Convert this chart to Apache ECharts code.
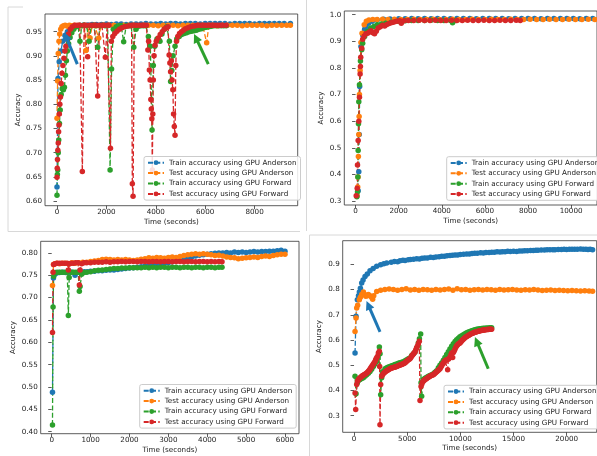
<!DOCTYPE html>
<html>
<head>
<meta charset="utf-8">
<script src="https://cdn.jsdelivr.net/npm/echarts@6/dist/echarts.min.js"></script>
<style>
  html, body { margin: 0; padding: 0; background: #fff; }
  #main { width: 597px; height: 456px; }
</style>
</head>
<body>
<div id="main"></div>
<script>
// series names and colours (matplotlib tab10)
const names = [
  "Train accuracy using GPU Anderson",
  "Test accuracy using GPU Anderson",
  "Train accuracy using GPU Forward",
  "Test accuracy using GPU Forward"
];
const colors = ["#1f77b4", "#ff7f0e", "#2ca02c", "#d62728"];

// ---- top left panel: [time, accuracy]
const tlTrainAnd = [[0,0.629],[40,0.853],[90,0.888],[160,0.91],[230,0.93],[320,0.942],[420,0.95],[520,0.956],[640,0.96],[780,0.962],[920,0.963],[1080,0.964],[1250,0.964],[1420,0.965],[1600,0.965],[1800,0.965],[2000,0.966],[2200,0.965],[2400,0.966],[2600,0.966],[2800,0.965],[3000,0.966],[3200,0.966],[3400,0.966],[3600,0.967],[3800,0.966],[4000,0.966],[4200,0.967],[4400,0.966],[4600,0.967],[4800,0.967],[5000,0.966],[5200,0.967],[5400,0.967],[5600,0.967],[5800,0.966],[6000,0.967],[6200,0.967],[6400,0.967],[6600,0.967],[6800,0.967],[7000,0.966],[7200,0.967],[7400,0.967],[7600,0.967],[7800,0.967],[8000,0.966],[8200,0.967],[8400,0.967],[8600,0.967],[8800,0.967],[9000,0.967],[9200,0.967],[9450,0.967]];
const tlTestAnd = [[0,0.771],[25,0.848],[50,0.905],[80,0.93],[110,0.945],[150,0.955],[200,0.96],[260,0.962],[330,0.963],[420,0.961],[500,0.963],[600,0.962],[700,0.963],[800,0.962],[900,0.963],[1000,0.962],[1100,0.963],[1170,0.911],[1250,0.962],[1340,0.937],[1420,0.962],[1520,0.963],[1600,0.962],[1690,0.937],[1780,0.962],[1900,0.963],[2100,0.963],[2300,0.963],[2500,0.962],[2700,0.963],[2900,0.963],[3100,0.963],[3300,0.962],[3500,0.963],[3700,0.963],[3900,0.963],[4100,0.962],[4300,0.963],[4500,0.963],[4700,0.963],[4900,0.962],[5100,0.963],[5300,0.963],[5500,0.963],[5700,0.963],[5900,0.963],[6060,0.927],[6150,0.963],[6300,0.963],[6500,0.962],[6700,0.963],[6900,0.963],[7100,0.963],[7300,0.963],[7500,0.962],[7700,0.963],[7900,0.963],[8100,0.963],[8300,0.963],[8500,0.962],[8700,0.963],[8900,0.963],[9100,0.963],[9300,0.963],[9450,0.963]];
const tlTrainFwd = [[0,0.612],[15,0.655],[30,0.664],[50,0.7],[70,0.726],[100,0.76],[130,0.788],[170,0.82],[210,0.832],[260,0.83],[300,0.835],[340,0.86],[380,0.89],[420,0.91],[470,0.925],[530,0.938],[600,0.948],[680,0.955],[760,0.96],[850,0.962],[930,0.93],[1000,0.962],[1100,0.963],[1200,0.962],[1300,0.93],[1380,0.962],[1480,0.963],[1560,0.962],[1650,0.918],[1740,0.962],[1850,0.963],[1950,0.962],[2050,0.962],[2150,0.664],[2210,0.873],[2280,0.955],[2400,0.96],[2500,0.962],[2600,0.962],[2700,0.929],[2800,0.962],[2900,0.962],[3000,0.962],[3110,0.918],[3200,0.955],[3300,0.961],[3400,0.962],[3500,0.962],[3600,0.962],[3700,0.94],[3780,0.92],[3850,0.747],[3900,0.88],[3960,0.92],[4050,0.935],[4170,0.93],[4250,0.945],[4350,0.955],[4450,0.96],[4550,0.93],[4600,0.847],[4650,0.87],[4700,0.9],[4780,0.92],[4850,0.935],[4950,0.94],[5050,0.944],[5150,0.946],[5250,0.948],[5350,0.95],[5450,0.951],[5550,0.952],[5650,0.953],[5750,0.955],[5850,0.956],[5950,0.958],[6050,0.959],[6150,0.96],[6250,0.961],[6350,0.962],[6450,0.962],[6550,0.962],[6650,0.962],[6750,0.962],[6850,0.962]];
const tlTestFwd = [[0,0.649],[10,0.668],[20,0.686],[35,0.705],[50,0.72],[65,0.743],[80,0.757],[95,0.78],[115,0.8],[140,0.815],[170,0.843],[200,0.864],[240,0.88],[280,0.895],[320,0.91],[360,0.92],[410,0.935],[470,0.945],[540,0.955],[620,0.96],[720,0.963],[820,0.963],[920,0.963],[1026,0.661],[1100,0.963],[1180,0.963],[1242,0.898],[1320,0.963],[1420,0.963],[1520,0.963],[1600,0.963],[1647,0.817],[1720,0.963],[1820,0.963],[1900,0.963],[1957,0.897],[2030,0.963],[2100,0.963],[2165,0.709],[2200,0.93],[2260,0.94],[2340,0.946],[2430,0.951],[2530,0.955],[2630,0.958],[2730,0.96],[2830,0.961],[2930,0.962],[3020,0.963],[3050,0.636],[3080,0.61],[3130,0.963],[3230,0.963],[3330,0.963],[3430,0.963],[3530,0.963],[3620,0.963],[3680,0.912],[3710,0.93],[3740,0.871],[3770,0.85],[3800,0.81],[3820,0.79],[3840,0.77],[3860,0.664],[3880,0.78],[3900,0.85],[3930,0.9],[3970,0.922],[4020,0.93],[4100,0.937],[4180,0.944],[4260,0.95],[4340,0.955],[4420,0.958],[4500,0.96],[4540,0.902],[4570,0.885],[4600,0.867],[4630,0.89],[4660,0.85],[4690,0.83],[4720,0.78],[4750,0.754],[4780,0.736],[4810,0.88],[4840,0.93],[4890,0.94],[4960,0.946],[5040,0.95],[5120,0.953],[5200,0.956],[5300,0.958],[5400,0.96],[5500,0.961],[5600,0.962],[5700,0.963],[5800,0.963],[5900,0.963],[6000,0.963],[6100,0.963],[6200,0.963],[6300,0.963],[6400,0.963],[6500,0.963],[6600,0.963],[6700,0.963],[6850,0.963]];

// ---- top right panel
const trTrainAnd = [[60,0.32],[120,0.339],[150,0.41],[170,0.55],[190,0.73],[250,0.88],[330,0.924],[420,0.945],[480,0.955],[600,0.968],[775,0.975],[1000,0.98],[1300,0.983],[1600,0.984],[2000,0.985],[2300,0.985],[2600,0.986],[2900,0.985],[3200,0.986],[3500,0.985],[3800,0.986],[4100,0.986],[4400,0.985],[4700,0.986],[5000,0.986],[5300,0.986],[5600,0.985],[5900,0.986],[6200,0.986],[6500,0.986],[6800,0.986],[7100,0.985],[7400,0.986],[7700,0.986],[8000,0.986],[8300,0.986],[8600,0.985],[8900,0.986],[9200,0.986],[9500,0.986],[9800,0.986],[10100,0.986],[10400,0.985],[10700,0.986],[11000,0.986],[11300,0.986]];
const trTestAnd = [[70,0.32],[100,0.353],[115,0.39],[130,0.467],[150,0.55],[165,0.617],[180,0.7],[210,0.79],[250,0.895],[300,0.93],[400,0.962],[500,0.975],[620,0.98],[800,0.982],[1000,0.982],[1250,0.983],[1500,0.982],[1800,0.983],[2100,0.982],[2400,0.982],[2700,0.983],[3000,0.982],[3300,0.982],[3600,0.983],[3900,0.982],[4200,0.982],[4500,0.983],[4800,0.982],[5100,0.982],[5400,0.983],[5700,0.982],[6000,0.982],[6300,0.983],[6600,0.982],[6900,0.982],[7200,0.983],[7500,0.982],[7800,0.982],[8100,0.983],[8400,0.982],[8700,0.982],[9000,0.983],[9300,0.982],[9600,0.982],[9900,0.983],[10200,0.982],[10500,0.982],[10800,0.983],[11100,0.982],[11300,0.982]];
const trTrainFwd = [[60,0.316],[90,0.335],[105,0.39],[120,0.49],[135,0.59],[150,0.673],[180,0.737],[225,0.826],[285,0.868],[330,0.893],[420,0.918],[550,0.937],[700,0.95],[850,0.956],[1000,0.962],[1200,0.965],[1400,0.968],[1650,0.972],[1970,0.975],[2300,0.977],[2600,0.978],[2900,0.978],[3200,0.978],[3500,0.979],[3800,0.978],[4100,0.978],[4400,0.978],[4500,0.97],[4650,0.978]];
const trTestFwd = [[30,0.32],[75,0.348],[90,0.435],[120,0.527],[150,0.6],[180,0.69],[210,0.777],[225,0.805],[240,0.84],[285,0.874],[330,0.908],[400,0.92],[480,0.928],[560,0.93],[640,0.935],[720,0.94],[800,0.932],[880,0.928],[960,0.938],[1050,0.95],[1150,0.955],[1250,0.96],[1350,0.957],[1450,0.963],[1550,0.967],[1650,0.97],[1750,0.972],[1850,0.974],[1950,0.976],[2050,0.977],[2120,0.968],[2250,0.977],[2450,0.978],[2700,0.978],[2950,0.979],[3200,0.978],[3450,0.978],[3700,0.979],[3950,0.978],[4200,0.978],[4450,0.979],[4700,0.978],[4950,0.978],[5200,0.979],[5450,0.978],[5700,0.978],[5950,0.979],[6200,0.978],[6450,0.978],[6700,0.979],[6950,0.978],[7200,0.978],[7450,0.979],[7640,0.978]];

// ---- bottom left panel
const blTrainAnd = [[20,0.488],[45,0.744],[80,0.752],[130,0.755],[200,0.756],[280,0.757],[360,0.756],[440,0.757],[520,0.757],[600,0.75],[680,0.757],[760,0.758],[840,0.758],[920,0.758],[1000,0.759],[1100,0.759],[1200,0.76],[1300,0.76],[1400,0.761],[1500,0.762],[1600,0.762],[1700,0.763],[1800,0.764],[1900,0.765],[2000,0.766],[2100,0.767],[2200,0.768],[2300,0.769],[2400,0.771],[2500,0.772],[2600,0.774],[2700,0.775],[2800,0.776],[2900,0.777],[3000,0.778],[3100,0.78],[3200,0.782],[3300,0.784],[3400,0.786],[3500,0.789],[3600,0.791],[3700,0.793],[3800,0.795],[3900,0.796],[4000,0.797],[4100,0.798],[4200,0.799],[4300,0.8],[4400,0.8],[4500,0.801],[4600,0.8],[4700,0.802],[4800,0.801],[4900,0.802],[5000,0.801],[5100,0.802],[5200,0.803],[5300,0.802],[5400,0.803],[5500,0.803],[5600,0.804],[5700,0.804],[5800,0.805],[5900,0.806],[6000,0.804]];
const blTestAnd = [[20,0.727],[45,0.774],[80,0.776],[130,0.777],[200,0.776],[280,0.777],[360,0.777],[440,0.776],[520,0.778],[600,0.777],[700,0.778],[800,0.779],[900,0.779],[1000,0.781],[1100,0.782],[1200,0.783],[1300,0.785],[1400,0.786],[1500,0.785],[1600,0.784],[1700,0.785],[1800,0.784],[1900,0.785],[2000,0.784],[2100,0.783],[2200,0.784],[2300,0.786],[2400,0.787],[2500,0.789],[2600,0.788],[2700,0.79],[2800,0.789],[2900,0.788],[3000,0.79],[3100,0.791],[3200,0.79],[3300,0.792],[3400,0.794],[3500,0.796],[3600,0.797],[3700,0.798],[3800,0.797],[3900,0.798],[4000,0.797],[4100,0.796],[4200,0.794],[4300,0.795],[4400,0.793],[4500,0.791],[4600,0.79],[4700,0.789],[4800,0.787],[4900,0.788],[5000,0.789],[5100,0.79],[5200,0.791],[5300,0.79],[5400,0.792],[5500,0.793],[5600,0.792],[5700,0.794],[5800,0.796],[5900,0.797],[6000,0.797]];
const blTrainFwd = [[20,0.415],[35,0.679],[50,0.748],[90,0.756],[140,0.757],[200,0.757],[260,0.757],[330,0.757],[400,0.757],[428,0.66],[450,0.745],[500,0.757],[560,0.757],[620,0.757],[680,0.757],[711,0.714],[730,0.725],[770,0.752],[830,0.756],[900,0.757],[1000,0.758],[1100,0.76],[1200,0.761],[1300,0.762],[1400,0.763],[1500,0.764],[1600,0.765],[1700,0.765],[1800,0.766],[1900,0.766],[2000,0.767],[2100,0.767],[2200,0.767],[2300,0.767],[2400,0.768],[2500,0.767],[2600,0.768],[2700,0.767],[2800,0.768],[2900,0.768],[3000,0.767],[3100,0.768],[3200,0.768],[3300,0.767],[3400,0.768],[3500,0.768],[3600,0.767],[3700,0.768],[3800,0.768],[3900,0.767],[4000,0.768],[4100,0.768],[4200,0.767],[4300,0.768],[4380,0.768]];
const blTestFwd = [[20,0.622],[35,0.757],[50,0.774],[90,0.776],[140,0.777],[200,0.777],[260,0.777],[330,0.777],[400,0.777],[428,0.762],[450,0.775],[500,0.777],[560,0.777],[620,0.778],[680,0.778],[711,0.728],[730,0.762],[770,0.776],[830,0.778],[900,0.778],[1000,0.778],[1100,0.779],[1200,0.779],[1300,0.779],[1400,0.78],[1500,0.779],[1600,0.78],[1700,0.78],[1800,0.781],[1900,0.78],[2000,0.781],[2100,0.781],[2200,0.78],[2300,0.781],[2400,0.781],[2500,0.78],[2600,0.781],[2700,0.781],[2800,0.78],[2900,0.781],[3000,0.781],[3100,0.78],[3200,0.781],[3300,0.781],[3400,0.78],[3500,0.781],[3600,0.781],[3700,0.78],[3800,0.781],[3900,0.781],[4000,0.78],[4100,0.781],[4200,0.78],[4300,0.781],[4380,0.78]];

// ---- bottom right panel
const brTrainAnd = [[94,0.548],[188,0.694],[313,0.76],[420,0.775],[501,0.79],[600,0.805],[720,0.826],[850,0.838],[1034,0.852],[1250,0.862],[1504,0.875],[1800,0.884],[2130,0.892],[2500,0.898],[2800,0.902],[3070,0.905],[3500,0.908],[3800,0.911],[4100,0.91],[4324,0.914],[4600,0.916],[4800,0.915],[5100,0.918],[5300,0.919],[5600,0.92],[5890,0.922],[6150,0.921],[6400,0.924],[6650,0.925],[6900,0.925],[7200,0.928],[7457,0.927],[7700,0.929],[8000,0.93],[8250,0.932],[8500,0.932],[8750,0.934],[9023,0.935],[9250,0.936],[9500,0.937],[9750,0.937],[10000,0.939],[10300,0.94],[10590,0.941],[10850,0.941],[11100,0.943],[11350,0.944],[11600,0.944],[11900,0.946],[12156,0.945],[12400,0.947],[12700,0.947],[12950,0.948],[13200,0.948],[13450,0.95],[13723,0.949],[13950,0.95],[14200,0.95],[14450,0.952],[14700,0.951],[15000,0.952],[15290,0.951],[15550,0.953],[15800,0.953],[16050,0.954],[16300,0.954],[16600,0.955],[16856,0.955],[17100,0.956],[17300,0.956],[17600,0.957],[17900,0.957],[18150,0.958],[18422,0.958],[18700,0.958],[18900,0.958],[19200,0.959],[19500,0.959],[19750,0.96],[19989,0.959],[20250,0.96],[20500,0.96],[20750,0.96],[21000,0.96],[21300,0.961],[21555,0.96],[21800,0.96],[22000,0.959],[22200,0.96],[22432,0.958]];
const brTestAnd = [[94,0.634],[188,0.687],[250,0.727],[340,0.738],[500,0.76],[600,0.77],[720,0.78],[880,0.79],[1000,0.78],[1100,0.773],[1250,0.775],[1350,0.78],[1500,0.775],[1650,0.77],[1750,0.762],[1850,0.775],[2130,0.792],[2500,0.797],[2900,0.8],[3300,0.802],[3700,0.8],[4100,0.797],[4500,0.8],[4900,0.803],[5300,0.798],[5700,0.8],[6100,0.797],[6500,0.8],[6900,0.799],[7300,0.797],[7700,0.8],[8100,0.798],[8500,0.8],[8900,0.802],[9300,0.797],[9700,0.803],[10100,0.799],[10500,0.8],[10900,0.797],[11300,0.799],[11700,0.8],[12100,0.798],[12500,0.8],[12900,0.799],[13300,0.797],[13700,0.8],[14100,0.798],[14500,0.799],[14900,0.8],[15300,0.798],[15700,0.797],[16100,0.799],[16500,0.798],[16900,0.8],[17300,0.798],[17700,0.796],[18100,0.797],[18500,0.798],[18900,0.796],[19300,0.797],[19700,0.796],[20100,0.795],[20500,0.796],[20900,0.795],[21300,0.794],[21700,0.795],[22100,0.794],[22432,0.793]];
const brTrainFwd = [[94,0.456],[188,0.387],[313,0.43],[450,0.44],[564,0.443],[720,0.447],[877,0.45],[1030,0.456],[1190,0.462],[1350,0.468],[1504,0.475],[1660,0.484],[1817,0.495],[1970,0.505],[2130,0.515],[2230,0.53],[2318,0.545],[2381,0.572],[2444,0.545],[2506,0.383],[2600,0.45],[2757,0.476],[2920,0.486],[3080,0.49],[3230,0.493],[3384,0.495],[3540,0.498],[3700,0.5],[3850,0.503],[4010,0.505],[4170,0.508],[4325,0.51],[4480,0.512],[4640,0.514],[4795,0.518],[4950,0.522],[5110,0.526],[5263,0.529],[5420,0.538],[5580,0.545],[5733,0.552],[5890,0.568],[6047,0.588],[6150,0.605],[6266,0.624],[6300,0.43],[6360,0.377],[6517,0.443],[6670,0.448],[6830,0.452],[6990,0.456],[7140,0.459],[7300,0.462],[7460,0.466],[7610,0.472],[7770,0.478],[7930,0.49],[8080,0.5],[8240,0.509],[8400,0.52],[8550,0.531],[8710,0.542],[8870,0.553],[9020,0.564],[9180,0.575],[9340,0.585],[9500,0.594],[9650,0.601],[9810,0.607],[9960,0.613],[10120,0.617],[10276,0.621],[10430,0.625],[10590,0.629],[10750,0.632],[10903,0.634],[11060,0.637],[11220,0.639],[11370,0.641],[11530,0.643],[11690,0.644],[11840,0.645],[12000,0.646],[12156,0.647],[12310,0.647],[12470,0.648],[12630,0.648],[12780,0.649],[12940,0.649]];
const brTestFwd = [[94,0.39],[157,0.324],[251,0.423],[330,0.436],[407,0.443],[480,0.446],[560,0.45],[640,0.452],[720,0.456],[800,0.458],[880,0.46],[950,0.462],[1030,0.464],[1110,0.466],[1190,0.469],[1270,0.472],[1350,0.476],[1430,0.48],[1510,0.485],[1580,0.49],[1660,0.495],[1740,0.5],[1820,0.505],[1900,0.51],[1974,0.515],[2040,0.522],[2100,0.528],[2193,0.535],[2290,0.548],[2381,0.555],[2410,0.495],[2440,0.264],[2506,0.423],[2600,0.456],[2680,0.462],[2760,0.467],[2840,0.47],[2914,0.473],[3000,0.476],[3080,0.478],[3150,0.48],[3230,0.482],[3300,0.484],[3384,0.486],[3460,0.488],[3540,0.489],[3620,0.49],[3700,0.491],[3780,0.492],[3860,0.493],[3930,0.494],[4010,0.495],[4090,0.497],[4170,0.498],[4250,0.5],[4320,0.501],[4400,0.502],[4480,0.503],[4560,0.505],[4640,0.506],[4720,0.508],[4800,0.51],[4870,0.513],[4950,0.516],[5030,0.519],[5110,0.522],[5180,0.524],[5263,0.526],[5340,0.531],[5420,0.536],[5500,0.54],[5580,0.544],[5650,0.548],[5733,0.552],[5800,0.56],[5880,0.568],[5953,0.575],[6050,0.585],[6140,0.595],[6204,0.36],[6300,0.416],[6380,0.425],[6454,0.433],[6530,0.437],[6610,0.44],[6680,0.443],[6760,0.445],[6830,0.447],[6910,0.45],[6990,0.452],[7070,0.454],[7140,0.456],[7220,0.458],[7300,0.46],[7380,0.461],[7457,0.462],[7540,0.465],[7610,0.468],[7690,0.471],[7770,0.474],[7850,0.477],[7930,0.48],[8000,0.483],[8083,0.486],[8160,0.492],[8240,0.498],[8320,0.504],[8400,0.509],[8480,0.514],[8553,0.518],[8630,0.52],[8710,0.522],[8804,0.482],[8870,0.524],[8950,0.528],[9023,0.532],[9100,0.54],[9180,0.548],[9274,0.531],[9340,0.55],[9400,0.555],[9480,0.562],[9560,0.57],[9640,0.576],[9720,0.58],[9800,0.584],[9880,0.586],[9963,0.588],[10040,0.592],[10120,0.596],[10200,0.6],[10280,0.603],[10350,0.606],[10430,0.609],[10510,0.612],[10590,0.614],[10670,0.616],[10750,0.618],[10830,0.62],[10900,0.622],[10980,0.624],[11060,0.626],[11140,0.627],[11216,0.628],[11300,0.63],[11370,0.631],[11450,0.632],[11530,0.633],[11610,0.634],[11690,0.635],[11770,0.636],[11843,0.637],[11920,0.638],[12000,0.638],[12080,0.639],[12160,0.64],[12240,0.64],[12310,0.641],[12390,0.641],[12470,0.642],[12550,0.642],[12630,0.642],[12700,0.643],[12780,0.643],[12860,0.643],[12940,0.643]];

// tick labels
const tlXTicks = [0, 2000, 4000, 6000, 8000];
const tlYTicks = [0.60, 0.65, 0.70, 0.75, 0.80, 0.85, 0.90, 0.95];
const trXTicks = [0, 2000, 4000, 6000, 8000, 10000];
const trYTicks = [0.3, 0.4, 0.5, 0.6, 0.7, 0.8, 0.9, 1.0];
const blXTicks = [0, 1000, 2000, 3000, 4000, 5000, 6000];
const blYTicks = [0.40, 0.45, 0.50, 0.55, 0.60, 0.65, 0.70, 0.75, 0.80];
const brXTicks = [0, 5000, 10000, 15000, 20000];
const brYTicks = [0.3, 0.4, 0.5, 0.6, 0.7, 0.8, 0.9];

// arrows: [tail, head] in data units
const tlBlueArrow = [[822, 0.883], [364, 0.94]];
const tlGreenArrow = [[6126, 0.883], [5628, 0.937]];
const brBlueArrow = [[2444, 0.632], [1344, 0.738]];
const brGreenArrow = [[12622, 0.486], [11532, 0.595]];

const FONT = "DejaVu Sans";
const FS = 7.2;
const TXT = "#222";

var chart = echarts.init(document.getElementById("main"), null, { renderer: "canvas" });

function arrow(color, a) {
  return {
    silent: true,
    animation: false,
    symbol: ["none", "triangle"],
    symbolSize: 9,
    symbolKeepAspect: false,
    precision: 4,
    lineStyle: { color: color, width: 3, type: "solid", opacity: 1 },
    itemStyle: { color: color },
    label: { show: false },
    emphasis: { disabled: true },
    data: [[{ coord: a[0] }, { coord: a[1] }]]
  };
}

function line(idx, data, gi, ml) {
  var s = {
    name: names[idx],
    type: "line",
    xAxisIndex: gi,
    yAxisIndex: gi,
    data: data,
    symbol: "circle",
    symbolSize: 5.5,
    showAllSymbol: true,
    animation: false,
    silent: true,
    itemStyle: { color: colors[idx] },
    lineStyle: { color: colors[idx], width: 1.3, type: [5, 2.3] },
    emphasis: { disabled: true }
  };
  if (ml) s.markLine = ml;
  return s;
}

function xAx(gi, min, max, ticks) {
  return {
    type: "value", gridIndex: gi, min: min, max: max,
    axisLine: { show: false },
    splitLine: { show: false },
    axisTick: { show: true, customValues: ticks, length: 3.5, lineStyle: { color: "#333", width: 0.8 } },
    axisLabel: {
      customValues: ticks, fontSize: FS, color: TXT, fontFamily: FONT, margin: 3, hideOverlap: false,
      formatter: function (v) { return String(Math.round(v)); }
    },
    name: "Time (seconds)", nameLocation: "middle", nameGap: 12.5,
    nameTextStyle: { fontSize: FS, color: TXT, fontFamily: FONT }
  };
}

function yAx(gi, min, max, ticks, dec, gap) {
  return {
    type: "value", gridIndex: gi, min: min, max: max,
    axisLine: { show: false },
    splitLine: { show: false },
    axisTick: { show: true, customValues: ticks, length: 3.5, lineStyle: { color: "#333", width: 0.8 } },
    axisLabel: {
      customValues: ticks, fontSize: FS, color: TXT, fontFamily: FONT, margin: 3, hideOverlap: false,
      formatter: function (v) { return Number(v).toFixed(dec); }
    },
    name: "Accuracy", nameLocation: "middle", nameRotate: 90, nameGap: gap,
    nameTextStyle: { fontSize: FS, color: TXT, fontFamily: FONT }
  };
}

function legend(left, top) {
  return {
    left: left, top: top, orient: "vertical",
    data: names, selectedMode: false,
    itemWidth: 16, itemHeight: 6, itemGap: 0,
    padding: [1, 4, 1, 3],
    backgroundColor: "rgba(255,255,255,0.85)",
    borderColor: "#cccccc", borderWidth: 1, borderRadius: 2,
    textStyle: { fontSize: FS, color: TXT, fontFamily: FONT, lineHeight: 10.4 }
  };
}

var grid = { show: true, borderColor: "#333", borderWidth: 0.8, backgroundColor: "transparent" };

var option = {
  backgroundColor: "#fff",
  animation: false,
  grid: [
    Object.assign({ left: 45, top: 14, width: 252.7, height: 191.7 }, grid),
    Object.assign({ left: 344.3, top: 11, width: 261.8, height: 194 }, grid),
    Object.assign({ left: 40.7, top: 241.3, width: 258.3, height: 192.4 }, grid),
    Object.assign({ left: 342.7, top: 240.7, width: 254, height: 191.6 }, grid)
  ],
  xAxis: [
    xAx(0, -486, 9747, tlXTicks),
    xAx(1, -523, 11200, trXTicks),
    xAx(2, -283, 6360, blXTicks),
    xAx(3, -1066, 22820, brXTicks)
  ],
  yAxis: [
    yAx(0, 0.5904, 0.9865, tlYTicks, 2, 23),
    yAx(1, 0.285, 1.0138, trYTicks, 1, 20),
    yAx(2, 0.3955, 0.826, blYTicks, 2, 24.5),
    yAx(3, 0.2339, 0.9938, brYTicks, 1, 20)
  ],
  legend: [
    legend(144, 156.5),
    legend(446.7, 156.7),
    legend(139.7, 384.5),
    legend(444, 385.3)
  ],
  series: [
    line(0, tlTrainAnd, 0, arrow(colors[0], tlBlueArrow)),
    line(1, tlTestAnd, 0),
    line(2, tlTrainFwd, 0),
    line(3, tlTestFwd, 0, arrow(colors[2], tlGreenArrow)),
    line(0, trTrainAnd, 1),
    line(1, trTestAnd, 1),
    line(2, trTrainFwd, 1),
    line(3, trTestFwd, 1),
    line(0, blTrainAnd, 2),
    line(1, blTestAnd, 2),
    line(2, blTrainFwd, 2),
    line(3, blTestFwd, 2),
    line(0, brTrainAnd, 3, arrow(colors[0], brBlueArrow)),
    line(1, brTestAnd, 3),
    line(2, brTrainFwd, 3),
    line(3, brTestFwd, 3, arrow(colors[2], brGreenArrow))
  ],
  // light panel frames from the screenshot collage
  graphic: [
    { type: "polyline", silent: true, shape: { points: [[23, 7], [8, 7], [8, 231.5], [300, 231.5]] }, style: { stroke: "#d8d8d8", lineWidth: 1, fill: null } },
    { type: "line", silent: true, shape: { x1: 306.5, y1: 0, x2: 306.5, y2: 231 }, style: { stroke: "#d8d8d8", lineWidth: 1 } },
    { type: "polyline", silent: true, shape: { points: [[309.5, 456], [309.5, 235], [597, 235]] }, style: { stroke: "#d8d8d8", lineWidth: 1, fill: null } }
  ]
};

chart.setOption(option);
</script>
</body>
</html>
